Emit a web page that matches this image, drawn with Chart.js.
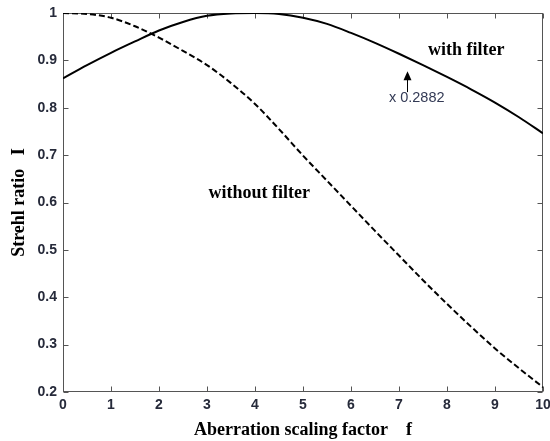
<!DOCTYPE html>
<html>
<head>
<meta charset="utf-8">
<script src="https://cdn.jsdelivr.net/npm/chart.js@4.4.0/dist/chart.umd.min.js"></script>
<style>
  html, body { margin: 0; padding: 0; background: #fff; }
  #wrap { width: 550px; height: 441px; }
</style>
</head>
<body>
<div id="wrap"><canvas id="strehl"></canvas></div>
<script>
// aberration scaling factor f
const fValues = [0, 0.5, 1, 1.5, 2, 2.5, 3, 3.5, 4, 4.5, 5, 5.5, 6, 6.5, 7, 7.5, 8, 8.5, 9, 9.5, 10];
// Strehl ratio with the filter (scaled by 0.2882)
const withFilter = [0.862, 0.89, 0.916, 0.94, 0.963, 0.981, 0.994, 0.999, 1.0, 0.998, 0.99, 0.977, 0.958, 0.937, 0.914, 0.89, 0.865, 0.839, 0.811, 0.78, 0.746];
// Strehl ratio without the filter
const withoutFilter = [1.0, 0.998, 0.99, 0.972, 0.948, 0.92, 0.89, 0.852, 0.808, 0.755, 0.699, 0.646, 0.593, 0.54, 0.488, 0.436, 0.386, 0.338, 0.292, 0.25, 0.21];

const xTicks = [0, 1, 2, 3, 4, 5, 6, 7, 8, 9, 10];
const yTicks = [0.2, 0.3, 0.4, 0.5, 0.6, 0.7, 0.8, 0.9, 1];

const serif = '"Liberation Serif", "Times New Roman", serif';
const sans = '"Liberation Sans", Arial, sans-serif';
const tickColor = '#262a3a';
const frameColor = '#555';

// text notes placed in data units
const notes = [
  { text: 'with filter', x: 8.40, y: 0.911, align: 'center', font: 'bold 18px ' + serif, color: '#000' },
  { text: 'without filter', x: 4.09, y: 0.609, align: 'center', font: 'bold 18px ' + serif, color: '#000' },
  { text: 'x 0.2882', x: 6.79, y: 0.8116, align: 'left', font: '14.5px ' + sans, color: '#333a55' }
];
const arrow = { x: 7.17, from: 0.833, to: 0.877 };

const toPoints = (ys) => ys.map((y, i) => ({ x: fValues[i], y }));

// box around the plot, inward ticks on all four sides, and the notes
const framePlugin = {
  id: 'frame',
  beforeDatasetsDraw(chart) {
    const { ctx, chartArea: a, scales } = chart;
    const left = Math.round(a.left) + 0.5, right = Math.round(a.right) - 0.5;
    const top = Math.round(a.top) + 0.5, bottom = Math.round(a.bottom) - 0.5;
    ctx.save();
    ctx.strokeStyle = frameColor;
    ctx.lineWidth = 1;
    ctx.strokeRect(left, top, right - left, bottom - top);
    ctx.beginPath();
    xTicks.forEach(v => {
      const px = Math.round(scales.x.getPixelForValue(v)) + 0.5;
      ctx.moveTo(px, bottom); ctx.lineTo(px, bottom - 5);
      ctx.moveTo(px, top); ctx.lineTo(px, top + 5);
    });
    yTicks.forEach(v => {
      const py = Math.round(scales.y.getPixelForValue(v)) + 0.5;
      ctx.moveTo(left, py); ctx.lineTo(left + 5, py);
      ctx.moveTo(right, py); ctx.lineTo(right - 5, py);
    });
    ctx.stroke();
    ctx.restore();
  },
  afterDraw(chart) {
    const { ctx, scales } = chart;
    ctx.save();
    ctx.textBaseline = 'alphabetic';
    notes.forEach(n => {
      ctx.font = n.font;
      ctx.fillStyle = n.color;
      ctx.textAlign = n.align;
      ctx.fillText(n.text, scales.x.getPixelForValue(n.x), scales.y.getPixelForValue(n.y));
    });
    // arrow pointing at the filtered curve
    const ax = Math.round(scales.x.getPixelForValue(arrow.x)) + 0.5;
    const y0 = scales.y.getPixelForValue(arrow.from);
    const y1 = scales.y.getPixelForValue(arrow.to);
    ctx.strokeStyle = '#000';
    ctx.fillStyle = '#000';
    ctx.lineWidth = 1;
    ctx.beginPath();
    ctx.moveTo(ax, y0);
    ctx.lineTo(ax, y1 + 6);
    ctx.stroke();
    ctx.beginPath();
    ctx.moveTo(ax, y1);
    ctx.lineTo(ax - 4, y1 + 9);
    ctx.lineTo(ax + 4, y1 + 9);
    ctx.closePath();
    ctx.fill();
    ctx.restore();
  }
};

new Chart(document.getElementById('strehl'), {
  type: 'line',
  data: {
    datasets: [
      {
        label: 'with filter',
        data: toPoints(withFilter),
        borderColor: '#000',
        borderWidth: 2,
        pointRadius: 0,
        cubicInterpolationMode: 'monotone'
      },
      {
        label: 'without filter',
        data: toPoints(withoutFilter),
        borderColor: '#000',
        borderWidth: 2,
        borderDash: [6, 3],
        pointRadius: 0,
        cubicInterpolationMode: 'monotone'
      }
    ]
  },
  options: {
    responsive: true,
    maintainAspectRatio: false,
    animation: false,
    devicePixelRatio: 1,
    layout: { padding: { top: 13, right: 7, left: 0, bottom: 0 } },
    plugins: { legend: { display: false }, tooltip: { enabled: false } },
    scales: {
      x: {
        type: 'linear',
        min: 0,
        max: 10,
        afterBuildTicks: (s) => { s.ticks = xTicks.map(v => ({ value: v })); },
        afterFit: (s) => { s.height = 49; s.paddingLeft = 0; s.paddingRight = 0; },
        grid: { display: false, drawTicks: false },
        border: { display: false },
        ticks: {
          padding: 5,
          maxRotation: 0,
          color: tickColor,
          font: { family: sans, size: 14, weight: 'bold' }
        },
        title: {
          display: true,
          text: 'Aberration scaling factor    f',
          color: '#000',
          font: { family: serif, size: 18, weight: 'bold' },
          padding: { top: 0, bottom: 0 }
        }
      },
      y: {
        min: 0.2,
        max: 1,
        afterBuildTicks: (s) => { s.ticks = yTicks.map(v => ({ value: v })); },
        afterFit: (s) => { s.width = 63; s.paddingTop = 0; s.paddingBottom = 0; },
        grid: { display: false, drawTicks: false },
        border: { display: false },
        ticks: {
          padding: 6,
          color: tickColor,
          font: { family: sans, size: 14, weight: 'bold' },
          callback: (v) => String(Math.round(v * 10) / 10)
        },
        title: {
          display: true,
          text: 'Strehl ratio   I',
          color: '#000',
          font: { family: serif, size: 18, weight: 'bold' },
          padding: { top: 9, bottom: 0 }
        }
      }
    }
  },
  plugins: [framePlugin]
});
</script>
</body>
</html>
